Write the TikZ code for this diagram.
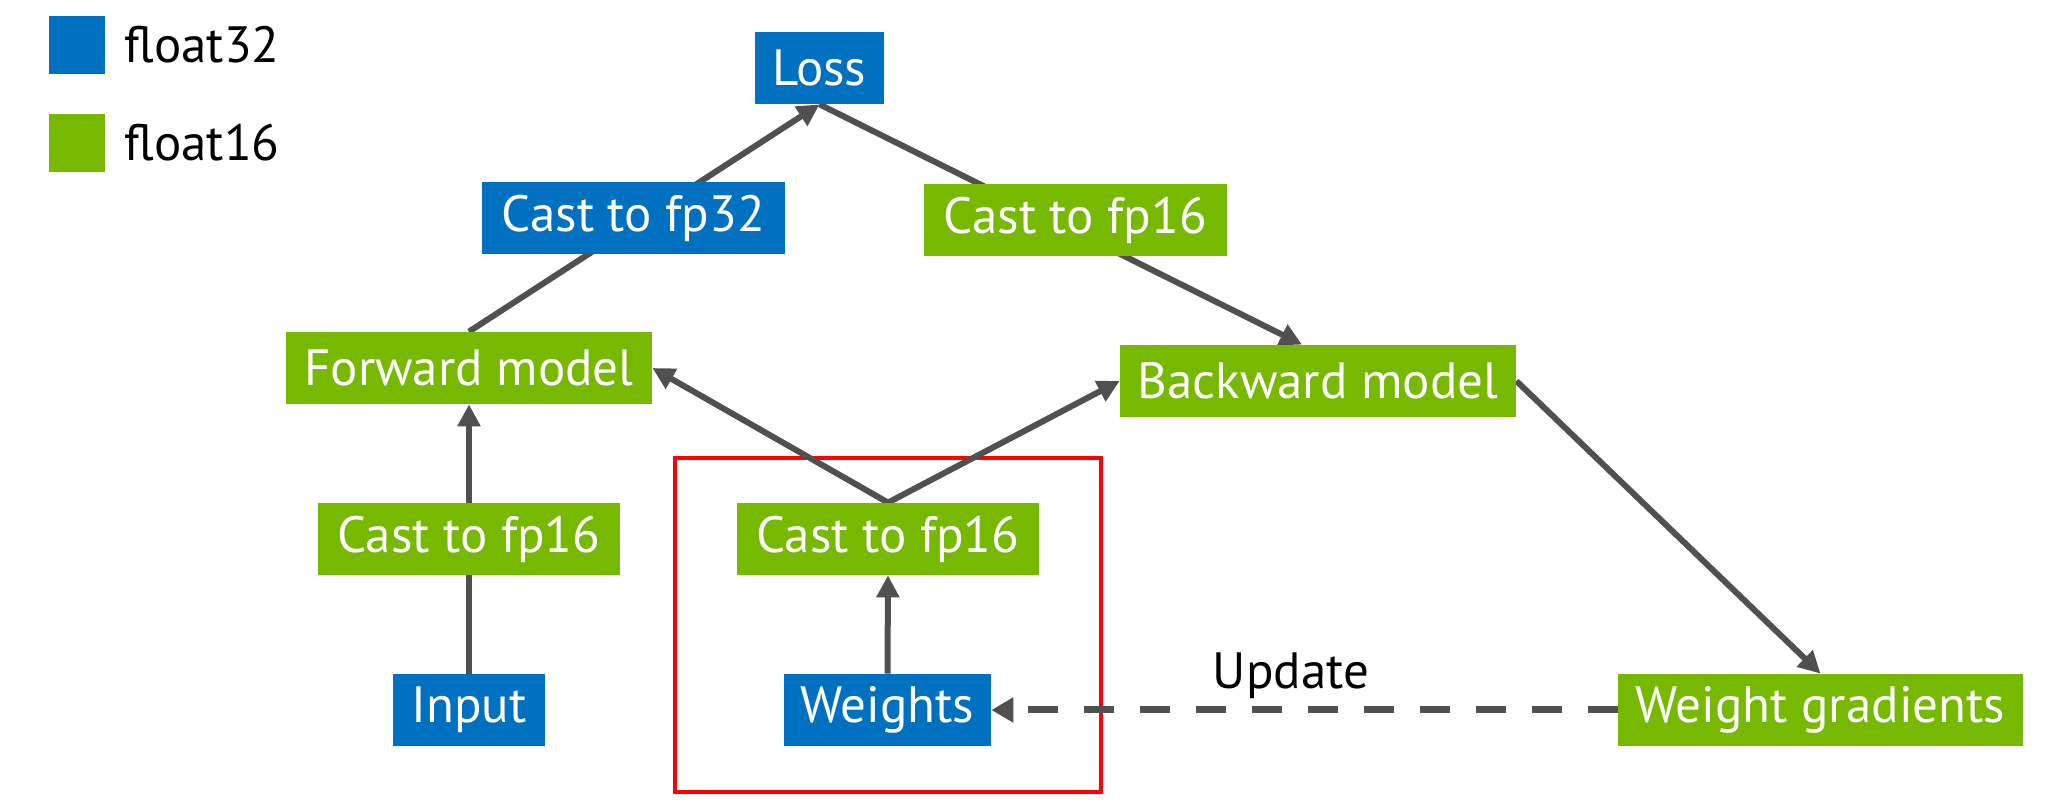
\documentclass[tikz,border=0pt]{standalone}
\usepackage{fontspec}
\setmainfont{PT Sans}
\usetikzlibrary{arrows.meta,backgrounds}
\definecolor{nvblue}{RGB}{0,112,192}
\definecolor{nvgreen}{RGB}{118,185,0}
\definecolor{edgegray}{RGB}{80,80,80}
\tikzset{
  box/.style={inner sep=0pt, minimum height=36pt, text=white, font=\fontsize{25.5}{29}\selectfont},
  bbox/.style={box, fill=nvblue},
  gbox/.style={box, fill=nvgreen},
  conn/.style={draw=edgegray, line width=3pt},
  arr/.style={conn, -{Triangle[length=11pt,width=11pt]}},
  legtext/.style={anchor=west, inner sep=0pt, font=\fontsize{25.5}{29}\selectfont},
}
\begin{document}
\begin{tikzpicture}[x=0.5pt,y=-0.5pt]
\useasboundingbox (0,0) rectangle (2058,806);
% legend
\node[fill=nvblue, minimum width=28pt, minimum height=29pt, inner sep=0pt] (legb) at (77,45) {};
\node[fill=nvgreen, minimum width=28pt, minimum height=29pt, inner sep=0pt] (legg) at (77,143) {};
\node[legtext] (legbt) at (124,45) {float32};
\node[legtext] (leggt) at (124,143) {float16};
% boxes
\node[bbox, minimum width=64.5pt] (loss) at (819.5,68) {Loss};
\node[bbox, minimum width=151.5pt] (cast32) at (633.5,218) {Cast to fp32};
\node[gbox, minimum width=151.5pt] (cast16t) at (1075.5,220) {Cast to fp16};
\node[gbox, minimum width=183pt] (fwd) at (469,368) {Forward model};
\node[gbox, minimum width=198pt] (bwd) at (1318,381) {Backward model};
\node[gbox, minimum width=151pt] (cast16l) at (469,539) {Cast to fp16};
\node[gbox, minimum width=151pt] (cast16m) at (888,539) {Cast to fp16};
\node[bbox, minimum width=76pt] (input) at (469,710) {Input};
\node[bbox, minimum width=103.5pt] (weights) at (887.5,710) {Weights};
\node[gbox, minimum width=202.5pt] (wgrad) at (1820.5,710) {Weight gradients};
\node[inner sep=0pt, font=\fontsize{25.5}{29}\selectfont] (upd) at (1291,676) {Update};
\begin{scope}[on background layer]
  \draw[draw=red, line width=2.25pt] (675,458) rectangle (1101,792);
  \draw[arr] (input.north) -- (fwd.south);
  \draw[arr] (fwd.north) -- (loss.south);
  \draw[arr] (loss.south) -- ([xshift=-8pt]bwd.north);
  \draw[arr] (cast16m.north) -- (fwd.east);
  \draw[arr] (cast16m.north) -- (bwd.west);
  \draw[arr] (bwd.east) -- (wgrad.north);
  \draw[arr] (weights.north) -- (cast16m.south);
  \draw[draw=edgegray, line width=3.5pt, dash pattern=on 15pt off 13pt, -{Triangle[length=11pt,width=12pt]}] (wgrad.west) -- (weights.east);
\end{scope}
\end{tikzpicture}
\end{document}
